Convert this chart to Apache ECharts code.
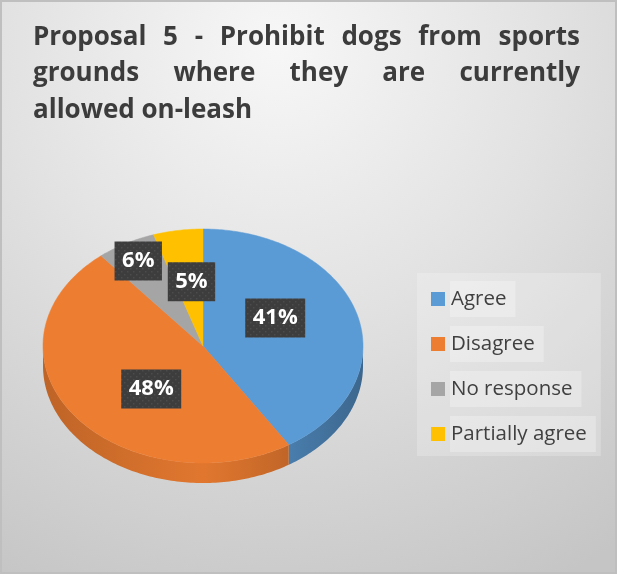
<!DOCTYPE html>
<html>
<head>
<meta charset="utf-8">
<script src="https://cdn.jsdelivr.net/npm/echarts@6/dist/echarts.min.js"></script>
<style>
  html, body { margin: 0; padding: 0; background: #ffffff; }
  #chart { width: 620px; height: 577px; }
</style>
</head>
<body>
<div id="chart"></div>
<script>
// Survey responses for proposal 5 (percent of respondents)
var categories = ['Agree', 'Disagree', 'No response', 'Partially agree'];
var values = [41, 48, 6, 5];
var colors = ['#5b9bd5', '#ed7d31', '#a5a5a5', '#ffc000'];
var titleLines = [
  'Proposal 5 - Prohibit dogs from sports',
  'grounds where they are currently',
  'allowed on-leash'
];

// Tilted-disc geometry of the pie
var pie = { cx: 203, cy: 346, rx: 160, ry: 117, depth: 20 };
// Where each percentage badge sits, as a fraction of the radius along the slice's mid angle
var labelSpots = [[0.47, 0.86], [0.40, 0.625], [0.84, 0.83], [0.46, 0.555]];

var total = values.reduce(function (a, b) { return a + b; }, 0);

var measureCtx = document.createElement('canvas').getContext('2d');
function textWidth(str, font) {
  measureCtx.font = font;
  return measureCtx.measureText(str).width;
}

// Darken a hex colour by multiplying its channels
function shade(hex, f) {
  var n = parseInt(hex.slice(1), 16);
  var r = Math.round(((n >> 16) & 255) * f);
  var g = Math.round(((n >> 8) & 255) * f);
  var b = Math.round((n & 255) * f);
  return 'rgb(' + r + ',' + g + ',' + b + ')';
}

// Small dotted tile used behind the percentage badges
var dotTile = (function () {
  var c = document.createElement('canvas');
  c.width = 6; c.height = 6;
  var g = c.getContext('2d');
  g.fillStyle = '#3d3d3d';
  g.fillRect(0, 0, 6, 6);
  g.fillStyle = '#4c4c4c';
  g.fillRect(1, 1, 1.5, 1.5);
  g.fillRect(4, 4, 1.5, 1.5);
  return c;
})();

function rimPoint(theta, drop) {
  return [pie.cx + pie.rx * Math.sin(theta), pie.cy - pie.ry * Math.cos(theta) + (drop || 0)];
}

function arcPoints(a0, a1, drop) {
  var pts = [];
  var n = Math.max(2, Math.ceil(Math.abs(a1 - a0) / (Math.PI / 180)));
  for (var i = 0; i <= n; i++) {
    pts.push(rimPoint(a0 + (a1 - a0) * i / n, drop));
  }
  return pts;
}

function makeRenderer(idx) {
  return function (params, api) {
    var before = 0;
    for (var k = 0; k < idx; k++) before += values[k];
    var a0 = before / total * Math.PI * 2;
    var a1 = (before + values[idx]) / total * Math.PI * 2;
    var base = colors[idx];
    var children = [];

    // Front wall of the disc, visible between 90° and 270° (clockwise from 12 o'clock)
    var s0 = Math.max(a0, Math.PI / 2);
    var s1 = Math.min(a1, Math.PI * 3 / 2);
    if (s1 > s0) {
      var wall = arcPoints(s0, s1, 0).concat(arcPoints(s1, s0, pie.depth));
      children.push({
        type: 'polygon',
        shape: { points: wall },
        style: {
          fill: {
            type: 'linear', global: true,
            x: pie.cx - pie.rx, y: 0, x2: pie.cx + pie.rx, y2: 0,
            colorStops: [
              { offset: 0, color: shade(base, 0.8) },
              { offset: 0.5, color: shade(base, 0.95) },
              { offset: 0.72, color: shade(base, 0.84) },
              { offset: 1, color: shade(base, 0.66) }
            ]
          },
          stroke: null
        }
      });
    }

    // Top face of the slice
    var top = [[pie.cx, pie.cy]].concat(arcPoints(a0, a1, 0));
    children.push({
      type: 'polygon',
      shape: { points: top },
      style: { fill: base, stroke: base, lineWidth: 0.5 }
    });

    // Percentage badge
    var mid = (a0 + a1) / 2;
    var spot = labelSpots[idx];
    var px = pie.cx + pie.rx * spot[0] * Math.sin(mid);
    var py = pie.cy - pie.ry * spot[1] * Math.cos(mid);
    var txt = values[idx] + '%';
    var font = 'bold 22px "Open Sans"';
    var w = textWidth(txt, font) + 15;
    var h = 39;
    children.push({
      type: 'rect',
      shape: { x: px - w / 2, y: py - h / 2, width: w, height: h },
      style: { fill: { image: dotTile, repeat: 'repeat' } },
      z2: 10
    });
    children.push({
      type: 'text',
      x: px, y: py,
      style: {
        text: txt,
        fill: '#ffffff',
        font: font,
        align: 'center',
        verticalAlign: 'middle'
      },
      z2: 11
    });

    return { type: 'group', children: children };
  };
}

// Title, justified across the header like a word-processor paragraph
var titleFont = 'bold 26px "Open Sans"';
var titleLeft = 33, titleRight = 580;
var titleBaselines = [47, 83, 120];
var titleGraphics = [];
titleLines.forEach(function (line, li) {
  var words = line.split(' ');
  var justify = li < titleLines.length - 1;
  var widths = words.map(function (wd) { return textWidth(wd, titleFont); });
  var sum = widths.reduce(function (a, b) { return a + b; }, 0);
  var gap = justify ? (titleRight - titleLeft - sum) / (words.length - 1) : textWidth(' ', titleFont);
  var x = titleLeft;
  words.forEach(function (wd, wi) {
    titleGraphics.push({
      type: 'text',
      x: x,
      y: titleBaselines[li] - 9,
      z: 5,
      style: {
        text: wd,
        font: titleFont,
        fill: '#3c3c3c',
        align: 'left',
        verticalAlign: 'middle'
      }
    });
    x += widths[wi] + gap;
  });
});

var chart = echarts.init(document.getElementById('chart'), null, { renderer: 'canvas' });

var series = categories.map(function (name, i) {
  return {
    type: 'custom',
    name: name,
    coordinateSystem: 'none',
    itemStyle: { color: colors[i] },
    data: [[values[i]]],
    renderItem: makeRenderer(i),
    silent: true
  };
});

chart.setOption({
  animation: false,
  backgroundColor: '#ffffff',
  graphic: [
    {
      type: 'rect',
      z: -10,
      shape: { x: 1, y: 1, width: 615, height: 572 },
      style: {
        fill: {
          type: 'radial', x: 0.45, y: 0.08, r: 1.05,
          colorStops: [
            { offset: 0, color: '#f7f7f7' },
            { offset: 0.45, color: '#e2e2e2' },
            { offset: 1, color: '#c5c5c5' }
          ]
        },
        stroke: '#bfbfbf',
        lineWidth: 2
      }
    }
  ].concat(titleGraphics),
  legend: {
    orient: 'vertical',
    left: 417,
    top: 273,
    padding: [8, 5, 4, 14],
    backgroundColor: 'rgba(255,255,255,0.22)',
    itemWidth: 14,
    itemHeight: 14,
    itemGap: 9,
    icon: 'rect',
    selectedMode: false,
    data: categories,
    textStyle: {
      fontFamily: 'Open Sans',
      fontSize: 20.5,
      color: '#404040',
      lineHeight: 24,
      backgroundColor: 'rgba(255,255,255,0.28)',
      padding: [6, 9, 6, 1]
    }
  },
  series: series
});
</script>
</body>
</html>
